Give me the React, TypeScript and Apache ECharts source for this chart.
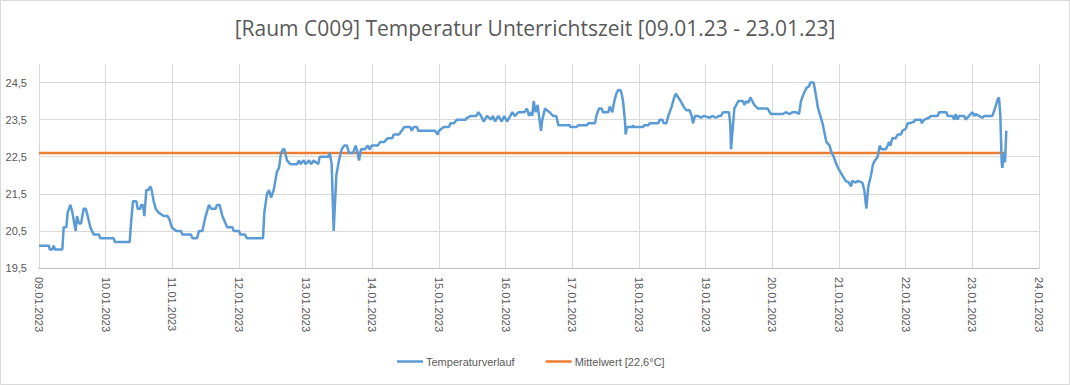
import React, { useEffect, useRef } from "react";
import * as echarts from "echarts";

const titleText = "[Raum C009] Temperatur Unterrichtszeit [09.01.23 - 23.01.23]";
const seriesNames = ["Temperaturverlauf", "Mittelwert [22,6°C]"];

const dateLabels = [
  "09.01.2023", "10.01.2023", "11.01.2023", "12.01.2023", "13.01.2023", "14.01.2023",
  "15.01.2023", "16.01.2023", "17.01.2023", "18.01.2023", "19.01.2023", "20.01.2023",
  "21.01.2023", "22.01.2023", "23.01.2023", "24.01.2023",
];

// [day offset from 09.01.2023, temperature °C]
const tempJan09to11: [number, number][] = [
  [0, 20.1], [0.15, 20.1], [0.16, 20.0], [0.2, 20.0], [0.22, 20.1], [0.24, 20.0], [0.35, 20.0],
  [0.37, 20.6], [0.41, 20.6], [0.43, 21.0], [0.47, 21.2], [0.5, 21.0], [0.52, 20.8], [0.55, 20.5],
  [0.57, 20.9], [0.6, 20.7], [0.63, 20.7], [0.67, 21.1], [0.7, 21.1], [0.73, 20.9], [0.77, 20.6],
  [0.82, 20.4], [0.9, 20.4], [0.92, 20.3], [1.12, 20.3], [1.14, 20.2], [1.36, 20.2], [1.38, 20.7],
  [1.41, 21.3], [1.46, 21.3], [1.48, 21.1], [1.52, 21.1], [1.53, 21.2], [1.56, 21.2], [1.58, 20.9],
  [1.61, 21.6], [1.64, 21.6], [1.67, 21.7], [1.69, 21.6], [1.72, 21.3], [1.75, 21.1], [1.79, 21.0],
  [1.87, 20.9], [1.93, 20.9], [1.96, 20.8], [1.99, 20.6], [2.06, 20.5], [2.13, 20.5], [2.15, 20.4],
  [2.28, 20.4], [2.3, 20.3], [2.37, 20.3], [2.4, 20.5], [2.45, 20.5],
];

const tempJan11to14: [number, number][] = [
  [2.5, 20.9], [2.55, 21.2], [2.58, 21.1], [2.65, 21.1], [2.67, 21.2], [2.71, 21.2], [2.75, 20.9],
  [2.8, 20.7], [2.82, 20.6], [2.9, 20.6], [2.92, 20.5], [3.0, 20.5], [3.02, 20.4], [3.09, 20.4],
  [3.12, 20.3], [3.36, 20.3], [3.38, 21.0], [3.42, 21.5], [3.45, 21.6], [3.48, 21.4], [3.52, 21.6],
  [3.57, 22.1], [3.6, 22.2], [3.63, 22.6], [3.66, 22.7], [3.68, 22.7], [3.72, 22.4], [3.77, 22.3],
  [3.87, 22.3], [3.9, 22.4], [3.92, 22.3], [3.97, 22.4], [4.0, 22.3], [4.05, 22.4], [4.08, 22.3],
  [4.12, 22.4], [4.19, 22.3], [4.21, 22.5], [4.34, 22.5], [4.36, 22.6], [4.39, 22.3], [4.42, 20.5],
  [4.46, 22.0], [4.5, 22.4], [4.54, 22.7], [4.58, 22.8], [4.62, 22.8], [4.65, 22.6], [4.71, 22.6],
  [4.75, 22.8], [4.78, 22.6], [4.8, 22.4], [4.83, 22.7], [4.89, 22.7], [4.93, 22.8], [4.96, 22.7],
  [4.99, 22.8],
];

const tempJan14to16: [number, number][] = [
  [5.08, 22.8], [5.12, 22.9], [5.18, 22.9], [5.23, 23.0], [5.3, 23.0], [5.32, 23.1], [5.4, 23.1],
  [5.44, 23.2], [5.48, 23.3], [5.57, 23.3], [5.59, 23.2], [5.62, 23.3], [5.67, 23.3], [5.69, 23.2],
  [5.94, 23.2], [5.98, 23.1], [6.0, 23.2], [6.07, 23.3], [6.15, 23.3], [6.17, 23.4], [6.22, 23.4],
  [6.27, 23.5], [6.4, 23.5], [6.42, 23.55], [6.48, 23.6], [6.56, 23.6], [6.59, 23.7], [6.63, 23.6],
  [6.67, 23.45], [6.72, 23.6], [6.78, 23.5], [6.81, 23.6], [6.84, 23.45], [6.89, 23.6], [6.94, 23.45],
  [6.98, 23.6], [7.02, 23.45], [7.07, 23.6], [7.1, 23.7], [7.14, 23.6], [7.19, 23.7], [7.28, 23.7],
  [7.32, 23.8],
];

const tempJan16to19: [number, number][] = [
  [7.35, 23.6], [7.38, 23.7], [7.4, 23.6], [7.42, 24.0], [7.45, 23.7], [7.48, 23.9], [7.5, 23.6],
  [7.53, 23.2], [7.55, 23.5], [7.59, 23.8], [7.62, 23.75], [7.66, 23.7], [7.71, 23.6], [7.76, 23.6],
  [7.79, 23.35], [7.96, 23.35], [7.97, 23.3], [8.06, 23.3], [8.09, 23.35], [8.22, 23.35], [8.24, 23.4],
  [8.34, 23.4], [8.36, 23.6], [8.4, 23.8], [8.44, 23.8], [8.46, 23.7], [8.54, 23.7], [8.56, 23.85],
  [8.6, 23.7], [8.63, 24.0], [8.66, 24.2], [8.69, 24.3], [8.72, 24.3], [8.74, 24.2], [8.76, 24.0],
  [8.79, 23.45], [8.8, 23.1], [8.82, 23.3], [8.9, 23.3], [8.91, 23.35], [8.92, 23.3], [9.06, 23.3],
  [9.08, 23.35], [9.14, 23.35], [9.16, 23.4], [9.29, 23.4], [9.31, 23.5], [9.35, 23.5], [9.37, 23.4],
  [9.41, 23.4], [9.44, 23.6], [9.49, 23.85], [9.52, 24.05], [9.55, 24.2], [9.59, 24.1], [9.64, 23.95],
  [9.67, 23.85], [9.71, 23.75], [9.76, 23.75], [9.79, 23.6], [9.81, 23.4], [9.84, 23.6], [9.89, 23.6],
];

const tempJan19to21: [number, number][] = [
  [9.93, 23.55], [9.97, 23.6], [10.06, 23.55], [10.1, 23.6], [10.15, 23.55], [10.2, 23.6],
  [10.23, 23.6], [10.26, 23.7], [10.35, 23.7], [10.37, 23.35], [10.38, 22.7], [10.41, 23.35],
  [10.43, 23.8], [10.46, 23.9], [10.49, 24.0], [10.56, 24.0], [10.58, 23.9], [10.61, 24.0],
  [10.64, 23.95], [10.67, 24.1], [10.7, 24.0], [10.73, 23.9], [10.78, 23.8], [10.93, 23.8],
  [10.96, 23.7], [10.98, 23.65], [11.16, 23.65], [11.2, 23.7], [11.26, 23.65], [11.3, 23.7],
  [11.36, 23.7], [11.4, 23.65], [11.43, 24.0], [11.47, 24.2], [11.51, 24.35], [11.55, 24.4],
  [11.57, 24.5], [11.62, 24.5], [11.65, 24.2], [11.68, 23.85], [11.72, 23.6], [11.76, 23.35],
  [11.81, 22.9], [11.86, 22.8], [11.88, 22.65], [11.92, 22.5], [11.96, 22.3], [12.0, 22.15],
];

const tempJan21to23: [number, number][] = [
  [12.05, 22.0], [12.1, 21.85], [12.15, 21.8], [12.18, 21.7], [12.2, 21.85], [12.25, 21.8],
  [12.28, 21.85], [12.35, 21.8], [12.38, 21.6], [12.41, 21.1], [12.44, 21.7], [12.48, 22.0],
  [12.51, 22.3], [12.54, 22.4], [12.58, 22.5], [12.61, 22.8], [12.64, 22.7], [12.7, 22.7],
  [12.73, 22.8], [12.75, 22.9], [12.77, 22.8], [12.8, 23.0], [12.85, 23.0], [12.88, 23.1],
  [12.93, 23.1], [12.95, 23.2], [13.0, 23.25], [13.03, 23.4], [13.06, 23.4], [13.13, 23.45],
  [13.14, 23.5], [13.23, 23.5], [13.24, 23.4], [13.28, 23.5], [13.35, 23.55], [13.38, 23.6],
  [13.48, 23.6], [13.5, 23.7], [13.61, 23.7], [13.63, 23.6], [13.7, 23.6], [13.73, 23.5],
  [13.75, 23.65], [13.78, 23.5], [13.8, 23.6], [13.88, 23.6], [13.9, 23.5], [13.95, 23.6],
  [14.0, 23.7], [14.03, 23.6], [14.05, 23.65], [14.1, 23.6], [14.15, 23.55], [14.18, 23.6],
  [14.3, 23.6], [14.34, 23.8], [14.38, 24.05], [14.4, 24.1], [14.42, 23.6], [14.44, 22.35],
  [14.45, 22.2], [14.48, 22.6], [14.49, 22.35], [14.51, 23.2],
];

const meanValue = 22.6;
const meanRange: number[] = [0, 14.51];

const temperatureData = [
  ...tempJan09to11, ...tempJan11to14, ...tempJan14to16,
  ...tempJan16to19, ...tempJan19to21, ...tempJan21to23,
];

export default function App() {
  const ref = useRef<HTMLDivElement>(null);

  useEffect(() => {
    document.body.style.margin = "0";
    if (!ref.current) return;
    const chart = echarts.init(ref.current, null, { renderer: "svg" });
    const textColor = "#595959";
    const font = "Liberation Sans";
    chart.setOption({
      animation: false,
      textStyle: { fontFamily: font, color: textColor },
      title: {
        text: titleText,
        left: "center",
        top: 12,
        textStyle: { fontFamily: "Open Sans", fontSize: 21, fontWeight: "normal", color: textColor },
      },
      graphic: [
        {
          type: "rect",
          silent: true,
          shape: { x: 0.5, y: 0.5, width: 1069, height: 384 },
          style: { fill: "none", stroke: "#d9d9d9", lineWidth: 1 },
        },
      ],
      legend: {
        bottom: 13,
        left: 392,
        icon: "rect",
        itemWidth: 26,
        itemHeight: 2.5,
        itemGap: 31,
        textStyle: { fontFamily: font, fontSize: 11, color: textColor, padding: [0, 0, 0, -2] },
        data: seriesNames,
      },
      grid: { left: 39, right: 31, top: 64, bottom: 117, containLabel: false },
      xAxis: {
        type: "value",
        min: 0,
        max: 15,
        interval: 1,
        axisLine: { show: true, lineStyle: { color: "#bfbfbf", width: 1 } },
        axisTick: { show: false },
        splitLine: { show: true, lineStyle: { color: "#d9d9d9", width: 1 } },
        axisLabel: {
          rotate: -90,
          margin: 9,
          fontFamily: font,
          fontSize: 11,
          color: textColor,
          formatter: (v: number) => dateLabels[Math.round(v)] ?? "",
        },
      },
      yAxis: {
        type: "value",
        min: 19.5,
        max: 25,
        interval: 0.5,
        axisLine: { show: false },
        axisTick: { show: false },
        splitLine: { show: true, lineStyle: { color: ["#d9d9d9", "rgba(0,0,0,0)"], width: 1 } },
        axisLabel: {
          margin: 12,
          fontFamily: font,
          fontSize: 11,
          color: textColor,
          formatter: (v: number) => {
            const k = v - 19.5;
            if (Math.abs(k - Math.round(k)) > 1e-6 || v > 24.9) return "";
            return v.toFixed(1).replace(".", ",");
          },
        },
      },
      series: [
        {
          name: seriesNames[0],
          type: "line",
          symbol: "none",
          data: temperatureData,
          lineStyle: { color: "#5b9bd5", width: 2.5 },
          itemStyle: { color: "#5b9bd5" },
          z: 3,
        },
        {
          name: seriesNames[1],
          type: "line",
          symbol: "none",
          data: meanRange.map((d) => [d, meanValue]),
          lineStyle: { color: "#ed7d31", width: 2.5 },
          itemStyle: { color: "#ed7d31" },
          z: 2,
        },
      ],
    });
    return () => chart.dispose();
  }, []);

  return <div ref={ref} style={{ width: 1070, height: 385 }} />;
}
